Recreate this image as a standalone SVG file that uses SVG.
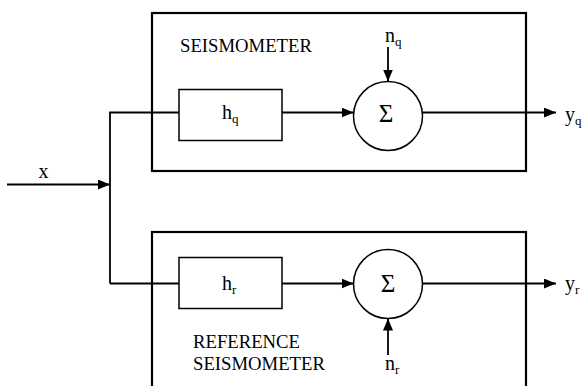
<svg xmlns="http://www.w3.org/2000/svg" width="583" height="386" viewBox="0 0 583 386">
<defs>
<marker id="ah" viewBox="0 0 12 10" refX="12" refY="5" markerWidth="12" markerHeight="10" markerUnits="userSpaceOnUse" orient="auto">
<path d="M0,0 L12,5 L0,10 Z" fill="#000"/>
</marker>
</defs>
<style>
.outer{fill:none;stroke:#000;stroke-width:2.2}
.blk{fill:#fff;stroke:#000;stroke-width:1.5}
.ln{fill:none;stroke:#000;stroke-width:1.8}
.t{font-family:"Liberation Serif","Times New Roman",serif;fill:#000}
.big{font-size:18.7px}
.lab{font-size:20px}
.sub{font-size:13px}
.sig{font-size:25px}
</style>
<g id="seismometer">
<rect class="outer" x="152" y="13" width="374" height="158"/>
<text class="t big" x="180" y="52">SEISMOMETER</text>
</g>
<g id="reference">
<rect class="outer" x="152" y="232" width="374" height="170"/>
<text class="t big" x="193" y="348">REFERENCE</text>
<text class="t big" x="193" y="370">SEISMOMETER</text>
</g>
<g id="connectors">
<path class="ln" d="M7,184.5 H110" marker-end="url(#ah)"/>
<path class="ln" d="M110,283.5 V112.5 H179"/>
<path class="ln" d="M110,283.5 H179"/>
<path class="ln" d="M282,112.5 H353.5" marker-end="url(#ah)"/>
<path class="ln" d="M282,283.5 H353.5" marker-end="url(#ah)"/>
<path class="ln" d="M422.5,112.5 H556" marker-end="url(#ah)"/>
<path class="ln" d="M422.5,283.5 H556" marker-end="url(#ah)"/>
<path class="ln" d="M388,47 V81.5" marker-end="url(#ah)"/>
<path class="ln" d="M388,355 V318.5" marker-end="url(#ah)"/>
</g>
<g id="x-label"><text class="t lab" x="43.5" y="178" text-anchor="middle">x</text></g>
<g id="hq">
<rect class="blk" x="179" y="89.5" width="103" height="51"/>
<text class="t lab" x="222" y="119">h<tspan class="sub" dy="4">q</tspan></text>
</g>
<g id="hr">
<rect class="blk" x="179" y="257.5" width="103" height="51"/>
<text class="t lab" x="222" y="290">h<tspan class="sub" dy="4">r</tspan></text>
</g>
<g id="sum-q">
<circle class="blk" cx="388" cy="116" r="34.5"/>
<text class="t sig" x="386" y="122" text-anchor="middle">Σ</text>
</g>
<g id="sum-r">
<circle class="blk" cx="388" cy="284" r="34.5"/>
<text class="t sig" x="388" y="292" text-anchor="middle">Σ</text>
</g>
<g id="nq"><text class="t lab" x="385" y="41.5">n<tspan class="sub" dy="4">q</tspan></text></g>
<g id="nr"><text class="t lab" x="385" y="370">n<tspan class="sub" dy="4">r</tspan></text></g>
<g id="yq"><text class="t lab" x="565" y="121">y<tspan class="sub" dy="4">q</tspan></text></g>
<g id="yr"><text class="t lab" x="565" y="290">y<tspan class="sub" dy="4">r</tspan></text></g>
</svg>
